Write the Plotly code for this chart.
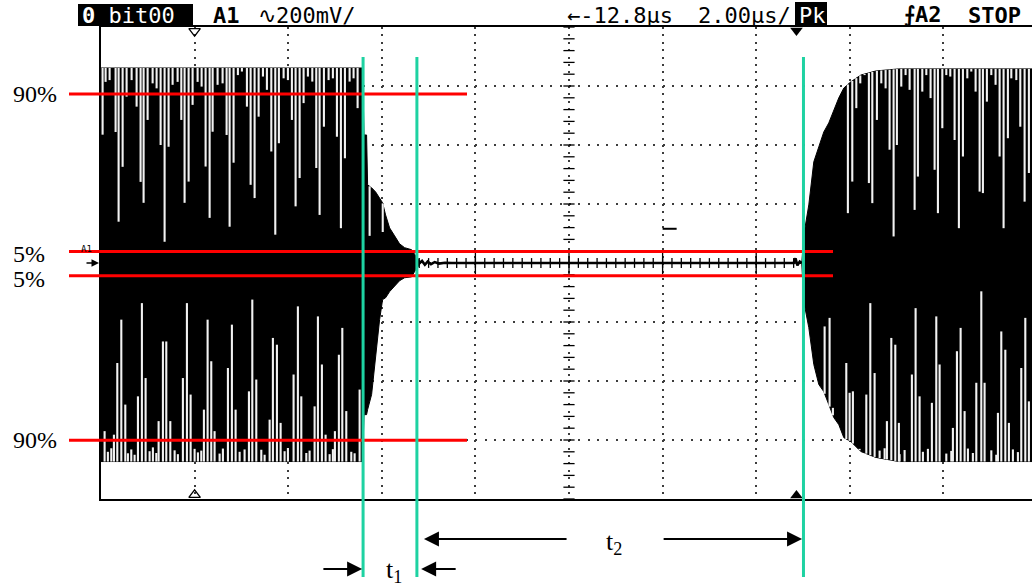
import numpy as np
import plotly.graph_objects as go

# ---------------- instrument settings ----------------
T_DIV = 2.0      # µs / div
V_DIV = 200.0    # mV / div

# ---------------- data (time in µs from screen left, amplitude in mV) ----------------
# burst 1 envelope (with decay)
env1_t  = [0.0, 5.59, 5.62, 5.675, 5.697, 5.782, 5.868, 5.953, 6.017, 6.081, 6.167, 6.274, 6.380, 6.487, 6.637, 6.722, 6.808]
env1_hi = [661, 661, 434, 434, 265, 255, 241, 221, 204, 163, 119, 92, 65, 52, 45, 25, 8]
env1_lo = [-673, -673, -514, -514, -497, -446, -328, -192, -124, -118, -97, -80, -60, -50, -47, -23, -6]

# burst 2 envelope (rise)
env2_t  = [14.974, 15.017, 15.124, 15.231, 15.338, 15.444, 15.551, 15.658, 15.765, 15.872, 16.021, 16.235, 16.556, 17.047, 19.95]
env2_hi = [0, 95, 197, 343, 394, 444, 475, 519, 560, 593, 614, 637, 651, 658, 658]
env2_lo = [0, -131, -219, -344, -412, -436, -480, -524, -548, -592, -605, -639, -659, -673, -673]

# idle baseline between bursts
base_t = [6.808, 6.86, 6.92, 6.98, 7.05, 7.13, 7.22, 7.35, 7.5, 14.80, 14.84, 14.88, 14.93, 14.974]
base_v = [0, 7, -6, 5, -4, 3, -2, 1, 0, 0, 16, -8, 5, 0]

# isolated glitch sample
glitch_t = [12.0, 12.3]
glitch_v = [116, 116]

# gaps in the peak-detect display: time and level where the gap ends
b1_top_t = [0.034, 0.098, 0.184, 0.312, 0.376, 0.462, 0.547, 0.654, 0.761, 0.846, 0.910, 0.996, 1.103, 1.188,
            1.274, 1.359, 1.444, 1.530, 1.637, 1.716, 1.786, 1.872, 1.957, 2.064, 2.150, 2.235, 2.321, 2.385,
            2.491, 2.598, 2.684, 2.748, 2.833, 2.925, 3.011, 3.118, 3.197, 3.282, 3.368, 3.460, 3.545, 3.639,
            3.724, 3.801, 3.902, 3.994, 4.079, 4.158, 4.244, 4.329, 4.421, 4.515, 4.600, 4.671, 4.763, 4.863,
            4.955, 5.041, 5.126, 5.212, 5.312, 5.397, 5.483, 5.74, 6.02]
b1_top_end = [435, 614, 620, 444, 140, 326, 564, 620, 530, 275, 204, 485, 609, 592, 400, 72, 394, 604, 614,
              485, 204, 276, 536, 614, 598, 327, 153, 445, 604, 609, 434, 123, 340, 637, 649, 530, 265, 220,
              496, 632, 587, 378, 96, 406, 626, 620, 485, 192, 288, 542, 632, 615, 322, 163, 462, 620, 626,
              428, 118, 355, 615, 626, 525, 92, 105]
b1_bot_t = [0.077, 0.276, 0.348, 0.434, 0.519, 0.789, 0.874, 0.953, 1.231, 1.323, 1.395, 1.481, 1.750, 1.836,
            1.915, 2.199, 2.278, 2.356, 2.427, 2.712, 2.797, 2.876, 3.068, 3.161, 3.233, 3.318, 3.603, 3.673,
            3.759, 3.838, 4.115, 4.207, 4.280, 4.564, 4.635, 4.720, 4.799, 4.998, 5.083, 5.156, 5.241, 5.526]
b1_bot_end = [-570, -582, -339, -192, -480, -452, -136, -390, -536, -266, -266, -536, -390, -136, -446, -497,
              -192, -333, -570, -356, -209, -497, -632, -435, -124, -395, -531, -254, -277, -542, -378, -147,
              -452, -486, -181, -344, -582, -570, -311, -220, -502, -429]
b1_notch_t = [0.147, 0.220, 0.575, 0.647, 0.718, 1.038, 1.109, 1.182, 1.573, 1.643, 2.000, 2.071, 2.143,
              2.534, 2.605, 2.962, 3.425, 3.496, 3.923, 3.994, 4.387, 4.457, 4.885, 4.955, 5.348, 5.419]
b1_notch_end = [-640, -628, -645, -632, -650, -638, -625, -644, -635, -648, -630, -642, -636, -646, -629,
                -640, -633, -650, -638, -627, -644, -636, -648, -631, -640, -645]

b2_top_t = [15.959, 16.053, 16.139, 16.224, 16.316, 16.408, 16.481, 16.579, 16.673, 16.765, 16.850, 16.936,
            17.006, 17.100, 17.192, 17.278, 17.385, 17.455, 17.549, 17.635, 17.726, 17.812, 17.883, 17.977,
            18.062, 18.147, 18.239, 18.331, 18.417, 18.511, 18.596, 18.688, 18.774, 18.844, 18.929, 19.024,
            19.115, 19.201, 19.286, 19.378, 19.451, 19.558, 19.643, 19.735, 19.827]
b2_top_end = [169, 276, 525, 609, 637, 271, 203, 485, 609, 592, 384, 90, 400, 598, 637, 587, 180, 293, 581,
              637, 559, 316, 169, 457, 637, 632, 417, 118, 361, 626, 649, 581, 242, 237, 547, 637, 604, 361,
              118, 423, 626, 620, 462, 208, 305]
b2_bot_t = [15.462, 15.568, 15.639, 15.925, 15.996, 16.066, 16.353, 16.438, 16.530, 16.793, 16.887, 16.972,
            17.049, 17.327, 17.406, 17.491, 17.754, 17.848, 17.919, 18.203, 18.289, 18.368, 18.453, 18.703,
            18.810, 18.880, 19.165, 19.237, 19.323, 19.400, 19.664, 19.750, 19.827]
b2_bot_end = [-215, -186, -491, -339, -440, -435, -446, -136, -373, -536, -254, -277, -542, -378, -153, -452,
              -474, -181, -344, -559, -299, -220, -502, -406, -96, -406, -508, -232, -294, -542, -356, -186, -469]
b2_notch_t = [16.209, 16.316, 16.637, 16.744, 17.064, 17.171, 17.562, 17.669, 18.062, 18.169, 18.524, 18.630,
              19.024, 19.130, 19.485, 19.592]
b2_notch_end = [-630, -645, -636, -628, -648, -634, -640, -630, -646, -637, -629, -644, -635, -650, -632, -641]

# measurement annotations
levels_mv = [573, 39, -43, -601]
level_labels = ["90%", "5%", "5%", "90%"]
cursor_t = [5.60, 6.75, 15.01]          # t1 start, t1 end / t2 start, t2 end

# ---------------- geometry ----------------
W, H = 1032, 587
ML, MT, MB, MR = 101, 27, 88, 0
PW, PH = W - ML - MR, H - MT - MB
X_MAX = PW / 93.6 * T_DIV
Y_MAX = 4 * V_DIV


def px(p):
    return (p - ML) / PW


def py(p):
    return (H - MB - p) / PH


fig = go.Figure()


def add_burst(t, hi, lo):
    fig.add_trace(go.Scatter(x=t + t[::-1], y=hi + lo[::-1], fill="toself", fillcolor="black",
                             mode="lines", line=dict(color="black", width=1), hoverinfo="skip"))


def add_gaps(ts, ends, env_t, env_edge):
    start = np.interp(ts, env_t, env_edge)
    xs, ys = [], []
    for t, e, s in zip(ts, ends, start):
        xs += [t, t, None]
        ys += [s, e, None]
    fig.add_trace(go.Scatter(x=xs, y=ys, mode="lines", line=dict(color="#f2f2f2", width=2.1),
                             hoverinfo="skip"))


add_burst(env1_t, env1_hi, env1_lo)
add_burst(env2_t, env2_hi, env2_lo)
add_gaps(b1_top_t, b1_top_end, env1_t, env1_hi)
add_gaps(b2_top_t, b2_top_end, env2_t, env2_hi)
add_gaps(b1_bot_t, b1_bot_end, env1_t, env1_lo)
add_gaps(b1_notch_t, b1_notch_end, env1_t, env1_lo)
add_gaps(b2_bot_t, b2_bot_end, env2_t, env2_lo)
add_gaps(b2_notch_t, b2_notch_end, env2_t, env2_lo)

fig.add_trace(go.Scatter(x=base_t, y=base_v, mode="lines", line=dict(color="black", width=2.6), hoverinfo="skip"))
fig.add_trace(go.Scatter(x=glitch_t, y=glitch_v, mode="lines", line=dict(color="black", width=2), hoverinfo="skip"))

# graticule centre ticks
TICK = dict(color="black", line=dict(color="black", width=1.3))
mx = np.arange(0, X_MAX, T_DIV / 10)
fig.add_trace(go.Scatter(x=mx, y=np.zeros_like(mx), mode="markers", hoverinfo="skip",
                         marker=dict(symbol="line-ns-open", size=7, **TICK)))
Mx = np.arange(0, X_MAX, T_DIV)
fig.add_trace(go.Scatter(x=Mx, y=np.zeros_like(Mx), mode="markers", hoverinfo="skip",
                         marker=dict(symbol="line-ns-open", size=16, **TICK)))
my = np.arange(-Y_MAX, Y_MAX + 1, V_DIV / 5)
fig.add_trace(go.Scatter(x=np.full_like(my, 5 * T_DIV), y=my, mode="markers", hoverinfo="skip",
                         marker=dict(symbol="line-ew-open", size=8, **TICK)))

# screen edge markers
fig.add_trace(go.Scatter(x=[T_DIV], y=[Y_MAX - 14], mode="markers", cliponaxis=False, hoverinfo="skip",
                         marker=dict(symbol="triangle-down-open", size=10, **TICK)))
fig.add_trace(go.Scatter(x=[T_DIV], y=[-Y_MAX + 14], mode="markers", cliponaxis=False, hoverinfo="skip",
                         marker=dict(symbol="triangle-up-open", size=10, **TICK)))
fig.add_trace(go.Scatter(x=[14.86], y=[Y_MAX - 12], mode="markers", cliponaxis=False, hoverinfo="skip",
                         marker=dict(symbol="triangle-down", size=11, color="black")))
fig.add_trace(go.Scatter(x=[14.86], y=[-Y_MAX + 12], mode="markers", cliponaxis=False, hoverinfo="skip",
                         marker=dict(symbol="triangle-up", size=11, color="black")))

shapes = []
# red level lines
red_end_px = [467, 833, 833, 467]
for lv, xe in zip(levels_mv, red_end_px):
    shapes.append(dict(type="line", xref="paper", yref="y", x0=px(69), x1=px(xe), y0=lv, y1=lv,
                       line=dict(color="#ff0000", width=3), layer="above"))
# green cursors
for ct in cursor_t:
    shapes.append(dict(type="line", xref="x", yref="paper", x0=ct, x1=ct, y0=py(577), y1=py(57),
                       line=dict(color="#1ed2a2", width=3), layer="above"))
# header boxes
shapes.append(dict(type="rect", xref="paper", yref="paper", x0=px(78), x1=px(193), y0=py(26), y1=py(4),
                   fillcolor="black", line=dict(width=0)))
shapes.append(dict(type="rect", xref="paper", yref="paper", x0=px(795), x1=px(827), y0=py(26), y1=py(2),
                   fillcolor="black", line=dict(width=0)))

ann = []
MONO = "DejaVu Sans Mono"
SERIF = "Liberation Serif"


def text(x, y, s, color="black", size=22, fam=MONO, xanchor="left"):
    ann.append(dict(xref="paper", yref="paper", x=x, y=y, text=s, showarrow=False, xanchor=xanchor,
                    yanchor="middle", font=dict(family=fam, size=size, color=color)))


text(px(80), py(15), "<b>0</b> bit00", color="white")
text(px(211), py(15), "<b>A1</b>")
text(px(256), py(15), "∿200mV/")
text(px(565), py(15), "←-12.8µs")
text(px(696), py(15), "2.00µs/")
text(px(797), py(15), "Pk", color="white")
text(px(902), py(15), "<b>⨍A2</b>")
text(px(966), py(15), "<b>STOP</b>")
text(px(79), py(249), "A1", size=9)

label_shift = [0, -2, -3, 0]
for lv, lab, sh in zip(levels_mv, level_labels, label_shift):
    ann.append(dict(xref="paper", yref="y", x=px(11), y=lv, yshift=sh, text=lab, showarrow=False,
                    xanchor="left", yanchor="middle", font=dict(family=SERIF, size=24, color="black")))

text(px(614), py(543), "t<sub>2</sub>", size=26, fam=SERIF, xanchor="center")
text(px(394), py(571), "t<sub>1</sub>", size=26, fam=SERIF, xanchor="center")


def arrow(head, tail, ypx):
    ann.append(dict(xref="x", yref="paper", x=head, y=py(ypx), axref="x", ayref="pixel", ax=tail, ay=0,
                    text="", showarrow=True, arrowhead=2, arrowsize=1.5, arrowwidth=2, arrowcolor="black",
                    standoff=0, startstandoff=0))


arrow(cursor_t[1] + 0.15, 9.98, 539)
arrow(cursor_t[2] - 0.03, 11.99, 539)
arrow(cursor_t[0] - 0.02, 4.72, 569)
arrow(cursor_t[1] + 0.09, 7.61, 569)
# channel marker on left edge
ann.append(dict(xref="paper", yref="y", x=px(99), y=0, axref="pixel", ayref="pixel", ax=-14, ay=0, text="",
                showarrow=True, arrowhead=2, arrowsize=1, arrowwidth=1.5, arrowcolor="black"))

fig.update_layout(
    width=W, height=H, margin=dict(l=ML, r=MR, t=MT, b=MB, pad=0, autoexpand=False),
    paper_bgcolor="white", plot_bgcolor="white", showlegend=False,
    shapes=shapes, annotations=ann,
    xaxis=dict(range=[0, X_MAX], dtick=T_DIV, tick0=0, showgrid=True, gridcolor="#3c3c3c", gridwidth=2,
               griddash="2px,5.38px", zeroline=False, showline=True, mirror=True, linecolor="black",
               linewidth=1.5, showticklabels=False, ticks="", fixedrange=True),
    yaxis=dict(range=[-Y_MAX, Y_MAX], dtick=V_DIV, tick0=0, showgrid=True, gridcolor="#3c3c3c", gridwidth=2,
               griddash="2px,7.36px", zeroline=False, showline=True, mirror=False, linecolor="black",
               linewidth=1.5, showticklabels=False, ticks="", fixedrange=True),
)

fig.write_html("out.html", config={"displayModeBar": False},
               post_script="document.body.style.margin='0px';document.body.style.overflow='hidden';")
